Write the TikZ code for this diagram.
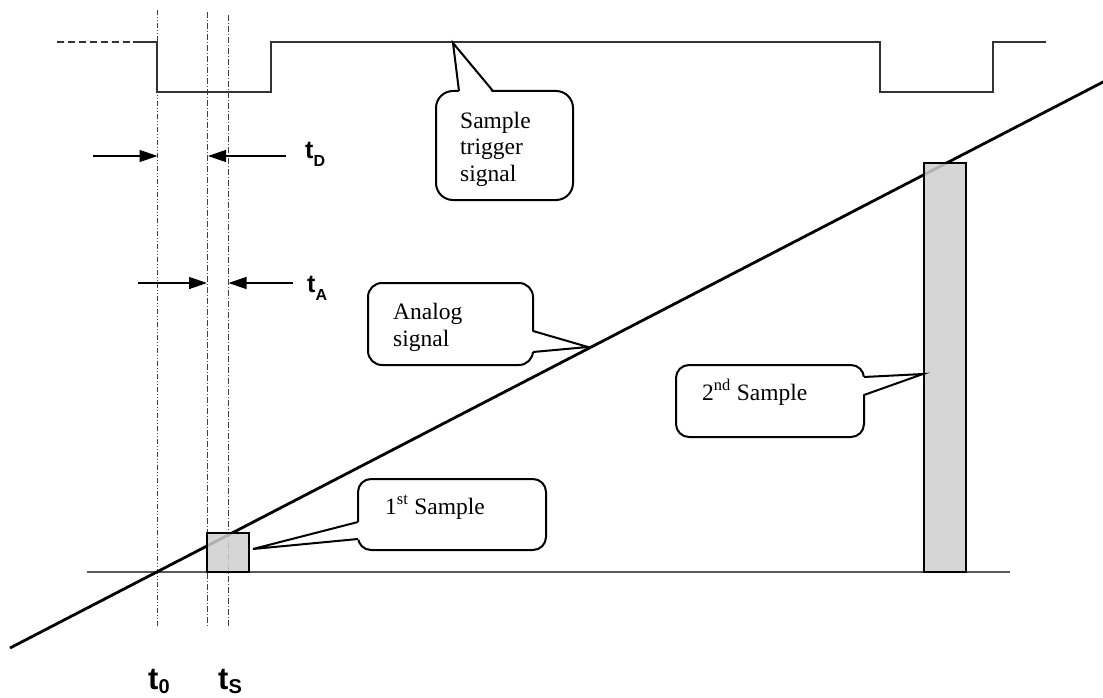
\documentclass[tikz,border=0pt]{standalone}
\usepackage{fontspec}
\setmainfont{Liberation Serif}
\setsansfont{Liberation Sans}
\usetikzlibrary{arrows.meta}
\begin{document}
\begin{tikzpicture}[x=1pt,y=-1pt,
  sig/.style={line width=1.4pt, draw=black!80},
  guideA/.style={line width=0.9pt, draw=black!75, dash pattern=on 6pt off 2pt on 1pt off 2pt},
  guideB/.style={line width=0.9pt, draw=black!75, dash pattern=on 5pt off 2pt on 1pt off 2pt on 1pt off 2pt},
  dimarrow/.style={line width=1.3pt, -{Triangle[length=18pt,width=12pt]}},
  callout/.style={draw, line width=2pt, fill=white, inner sep=0pt},
  erase/.style={fill=white},
  pointer/.style={line width=2pt, line join=miter},
  ctext/.style={font=\fontsize{23.5}{27}\selectfont, anchor=base west, inner sep=0pt, align=left},
  tlabel/.style={font=\sffamily\bfseries\fontsize{25}{25}\selectfont, anchor=base west, inner sep=0pt},
  tbig/.style={font=\sffamily\bfseries\fontsize{31}{31}\selectfont, anchor=base west, inner sep=0pt},
  sample/.style={draw, line width=2.6pt, fill=black!19, fill opacity=0.85, inner sep=0pt},
]
\useasboundingbox (0,0) rectangle (1103,698);

% guide lines
\coordinate (g0t) at (157.5,10);  \coordinate (g0b) at (157.5,627);
\coordinate (g1t) at (207.5,12);  \coordinate (g1b) at (207.5,627);
\coordinate (g2t) at (228,15);    \coordinate (g2b) at (228,628);
\draw[guideB] (g0t) -- (g0b);
\draw[guideA] (g1t) -- (g1b);
\draw[guideA] (g2t) -- (g2b);

% trigger signal
\coordinate (s0) at (57,42);
\coordinate (s1) at (133,42);
\draw[sig, dash pattern=on 7pt off 4pt] (s0) -- (s1);
\draw[sig] (s1) -- (157,42) -- (157,92) -- (271,92) -- (271,42) -- (880,42) -- (880,92) -- (993,92) -- (993,42) -- (1046,42);

% baseline
\coordinate (bl) at (87,572); \coordinate (br) at (1010,572);
\draw[line width=1.6pt, black!65] (bl) -- (br);

% analog signal
\coordinate (al) at (10,648); \coordinate (ar) at (1104,81.5);
\draw[line width=2.8pt] (al) -- (ar);

% samples
\node[sample, minimum width=42pt, minimum height=39pt] (samp1) at (228,552.5) {};
\node[sample, minimum width=42pt, minimum height=409pt] (samp2) at (945,367.5) {};

% dimension arrows
\coordinate (dDl) at (93,156);  \coordinate (dDa) at (157.5,156);
\coordinate (dDr) at (286,156); \coordinate (dDb) at (208,156);
\draw[dimarrow] (dDl) -- (dDa);
\draw[dimarrow] (dDr) -- (dDb);
\coordinate (dAl) at (138,283); \coordinate (dAa) at (207,283);
\coordinate (dAr) at (293,283); \coordinate (dAb) at (228.5,283);
\draw[dimarrow] (dAl) -- (dAa);
\draw[dimarrow] (dAr) -- (dAb);

\node[tlabel] (tD) at (305,158) {t\raisebox{-8pt}{\fontsize{16}{16}\selectfont D}};
\node[tlabel] (tA) at (307,292) {t\raisebox{-8pt}{\fontsize{16}{16}\selectfont A}};
\node[tbig] (t0) at (148,689) {t\raisebox{-4pt}{\fontsize{20}{20}\selectfont 0}};
\node[tbig] (tS) at (218,689) {t\raisebox{-4pt}{\fontsize{20}{20}\selectfont S}};

% callout: sample trigger signal
\node[callout, rounded corners=17pt, minimum width=137pt, minimum height=109pt] (ctrig) at (504.5,145.5) {};
\coordinate (ptT) at (453,43);
\fill[erase] (459,93.5) -- (ptT) -- (493,93.5) -- cycle;
\draw[pointer] (459,91) -- (ptT) -- (493,91);
\node[ctext] (ttrig) at (460,182) {Sample\\trigger\\signal};

% callout: analog signal
\node[callout, rounded corners=14pt, minimum width=165pt, minimum height=82pt] (cana) at (450.5,324) {};
\coordinate (ptA) at (588,347);
\fill[erase] (530.5,331) -- (ptA) -- (530.5,352) -- cycle;
\draw[pointer] (533,331) -- (ptA) -- (533,352);
\node[ctext] (tana) at (393,346) {Analog\\signal};

% callout: 2nd sample
\node[callout, rounded corners=13pt, minimum width=188pt, minimum height=72pt] (csec) at (770,401) {};
\coordinate (ptS) at (923,374);
\fill[erase] (861.5,377) -- (ptS) -- (861.5,395) -- cycle;
\draw[pointer] (864,377) -- (ptS) -- (864,395);
\node[ctext] (tsec) at (702,400) {2\textsuperscript{nd} Sample};

% callout: 1st sample
\node[callout, rounded corners=13pt, minimum width=188pt, minimum height=71pt] (cfir) at (452,514.5) {};
\coordinate (ptF) at (253,549);
\fill[erase] (360.5,521.5) -- (ptF) -- (360.5,539.5) -- cycle;
\draw[pointer] (358,522) -- (ptF) -- (358,539);
\node[ctext] (tfir) at (385,514) {1\textsuperscript{st} Sample};
\end{tikzpicture}
\end{document}
